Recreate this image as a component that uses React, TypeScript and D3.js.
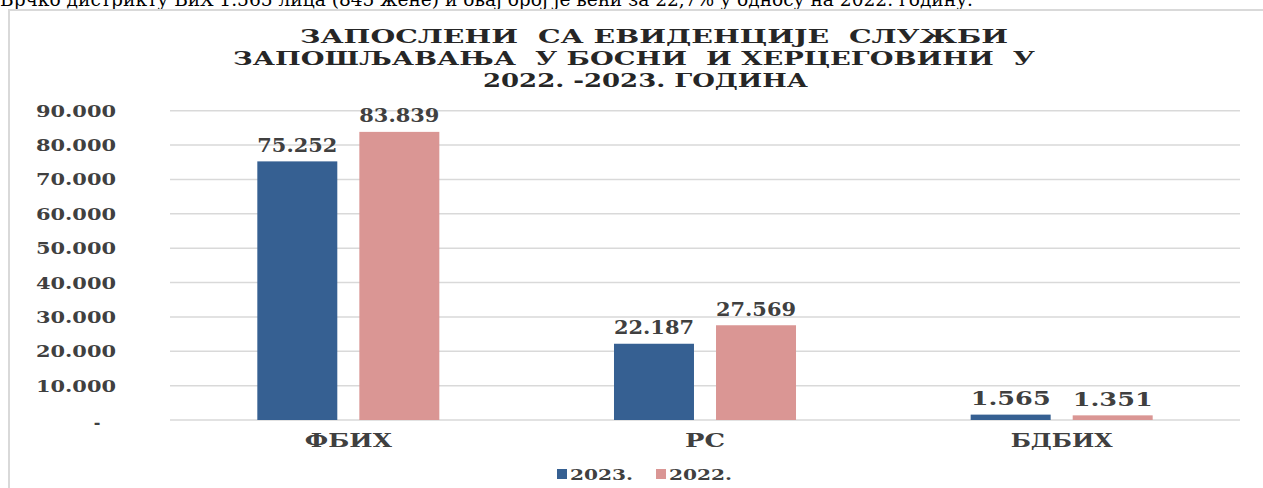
import React from "react";
import * as d3 from "d3";

const categories = ["ФБИХ", "РС", "БДБИХ"];
const seriesNames = ["2023.", "2022."];
const values2023 = [75252, 22187, 1565];
const values2022 = [83839, 27569, 1351];
const valueLabels2023 = ["75.252", "22.187", "1.565"];
const valueLabels2022 = ["83.839", "27.569", "1.351"];
const yTicks = [0, 10000, 20000, 30000, 40000, 50000, 60000, 70000, 80000, 90000];
const yTickLabels = ["-", "10.000", "20.000", "30.000", "40.000", "50.000", "60.000", "70.000", "80.000", "90.000"];
const titleLines = [
  "ЗАПОСЛЕНИ  СА ЕВИДЕНЦИЈЕ  СЛУЖБИ",
  "ЗАПОШЉАВАЊА  У БОСНИ  И ХЕРЦЕГОВИНИ  У",
  "2022. -2023. ГОДИНА",
];
const topText = "Брчко дистрикту БиХ 1.565 лица (845 жене) и овај број је већи за 22,7% у односу на 2022. годину.";

const colors = ["#366092", "#da9694"];
const W = 1263, H = 488;
const left = 170, right = 1240, top = 110.7, bottom = 420;

export default function App() {
  const y = d3.scaleLinear().domain([0, 90000]).range([bottom, top]);
  const x0 = d3.scaleBand().domain(categories).range([left, right]).paddingInner(0.4897).paddingOuter(0.2448);
  const x1 = d3.scaleBand().domain(seriesNames).range([0, x0.bandwidth()]).paddingInner(0.216);
  const series = [values2023, values2022];
  const labels = [valueLabels2023, valueLabels2022];
  const serif = "DejaVu Serif";
  const wide = "DejaVu Serif";
  const titleSpans = [[300, 1008], [233, 1035], [483, 808]];
  const titleBase = [43, 65, 87];
  const catWidths = [87, 40, 102];
  return (
    <svg width={W} height={H} style={{ position: "absolute", left: 0, top: 0, background: "#fff" }}>
      <text x={0} y={6} fontFamily={serif} fontSize={19} textLength={973} lengthAdjust="spacingAndGlyphs">{topText}</text>
      <path d={`M9,${H} V10 H${W}`} fill="none" stroke="#d9d9d9" strokeWidth={2} />
      {titleLines.map((t, i) => (
        <text key={i} x={titleSpans[i][0]} y={titleBase[i]} fontFamily={serif} fontWeight="bold" fontSize={19} fill="#262626"
          style={{ whiteSpace: "pre" }} xmlSpace="preserve"
          textLength={titleSpans[i][1] - titleSpans[i][0]} lengthAdjust="spacingAndGlyphs">{t}</text>
      ))}
      {yTicks.map((v, i) => (
        <g key={v}>
          <line x1={left} x2={right} y1={y(v)} y2={y(v)} stroke="#d9d9d9" strokeWidth={1.5} />
          {v === 0 ? (
            <text x={97} y={y(v) + 8} textAnchor="middle" fontFamily={wide} fontWeight="bold" fontSize={16} fill="#404040">-</text>
          ) : (
            <text x={116} y={y(v) + 6} textAnchor="end" fontFamily={wide} fontWeight="bold" fontSize={16.5} fill="#404040"
              textLength={80} lengthAdjust="spacingAndGlyphs">{yTickLabels[i]}</text>
          )}
        </g>
      ))}
      {categories.map((c, ci) => (
        <g key={c} transform={`translate(${x0(c)},0)`}>
          {seriesNames.map((s, si) => {
            const v = series[si][ci];
            const bx = x1(s)!;
            return (
              <g key={s}>
                <rect x={bx} y={y(v)} width={x1.bandwidth()} height={y(0) - y(v)} fill={colors[si]} />
                <text x={bx + x1.bandwidth() / 2} y={y(v) - 9.5} textAnchor="middle" fontFamily={wide} fontWeight="bold"
                  fontSize={19} fill="#404040" textLength={80} lengthAdjust="spacingAndGlyphs">{labels[si][ci]}</text>
              </g>
            );
          })}
          <text x={x0.bandwidth() / 2} y={447} textAnchor="middle" fontFamily={serif} fontWeight="bold" fontSize={18} fill="#404040"
            textLength={catWidths[ci]} lengthAdjust="spacingAndGlyphs">{c}</text>
        </g>
      ))}
      {seriesNames.map((s, i) => {
        const lx = [557, 656][i];
        return (
          <g key={s}>
            <rect x={lx} y={469} width={10} height={10} fill={colors[i]} />
            <text x={lx + 13} y={480} fontFamily={serif} fontWeight="bold" fontSize={15} fill="#404040"
              textLength={63} lengthAdjust="spacingAndGlyphs">{s}</text>
          </g>
        );
      })}
    </svg>
  );
}
